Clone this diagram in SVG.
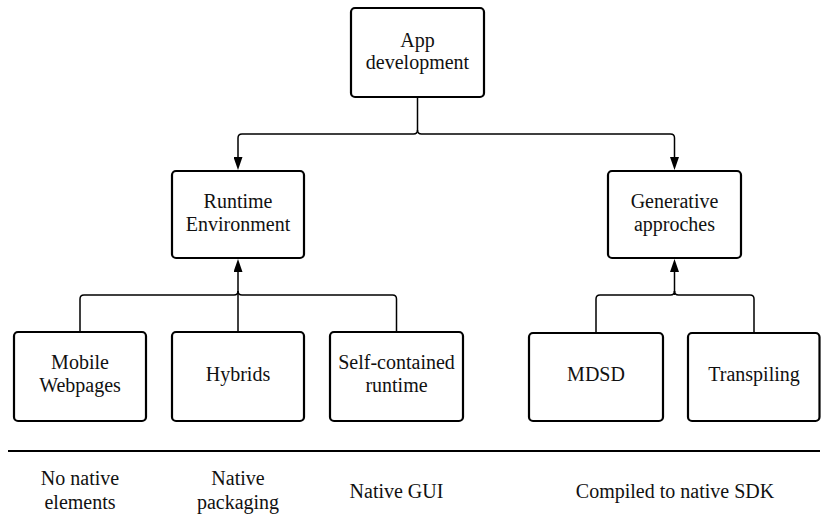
<svg xmlns="http://www.w3.org/2000/svg" width="821" height="516" viewBox="0 0 821 516">
<style>
.box{fill:#fff;stroke:#000;stroke-width:2.2}
.t{font-family:"Liberation Serif","DejaVu Serif",serif;font-size:20px;fill:#111;text-anchor:middle}
.c{fill:none;stroke:#000;stroke-width:1.5}
</style>
<defs>
<marker id="ah" viewBox="0 0 13 9" refX="0" refY="4.5" markerWidth="13" markerHeight="9" markerUnits="userSpaceOnUse" orient="auto">
<path d="M0,0 L13,4.5 L0,9 z" fill="#000"/>
</marker>
</defs>
<rect width="821" height="516" fill="#fff"/>
<g id="connectors">
<path class="c" d="M417.5,97 V130 Q417.5,134 413.5,134 H242 Q238,134 238,138 V157" marker-end="url(#ah)"/>
<path class="c" d="M417.5,130 Q417.5,134 421.5,134 H670.5 Q674.5,134 674.5,138 V157" marker-end="url(#ah)"/>
<path class="c" d="M80,332 V299 Q80,295 84,295 H234 Q238,295 238,291"/>
<path class="c" d="M396.5,332 V299 Q396.5,295 392.5,295 H242 Q238,295 238,291"/>
<path class="c" d="M238,332 V272" marker-end="url(#ah)"/>
<path class="c" d="M596,333 V299 Q596,295 600,295 H670.5 Q674.5,295 674.5,291"/>
<path class="c" d="M754,333 V299 Q754,295 750,295 H678.5 Q674.5,295 674.5,291"/>
<path class="c" d="M674.5,295 V272" marker-end="url(#ah)"/>
</g>
<g id="app">
<rect class="box" x="351" y="8" width="133" height="89" rx="4"/>
<text class="t" x="417.5" y="47">App</text>
<text class="t" x="417.5" y="69">development</text>
</g>
<g id="runtime">
<rect class="box" x="172" y="171" width="132" height="87" rx="4"/>
<text class="t" x="238" y="208">Runtime</text>
<text class="t" x="238" y="231">Environment</text>
</g>
<g id="generative">
<rect class="box" x="608" y="171" width="133" height="87" rx="4"/>
<text class="t" x="674.5" y="208">Generative</text>
<text class="t" x="674.5" y="231">approches</text>
</g>
<g id="mobile">
<rect class="box" x="14" y="332" width="132" height="89" rx="4"/>
<text class="t" x="80" y="369">Mobile</text>
<text class="t" x="80" y="392">Webpages</text>
</g>
<g id="hybrids">
<rect class="box" x="172" y="332" width="132" height="89" rx="4"/>
<text class="t" x="238" y="381">Hybrids</text>
</g>
<g id="selfcontained">
<rect class="box" x="330" y="332" width="133" height="89" rx="4"/>
<text class="t" x="396.5" y="369">Self-contained</text>
<text class="t" x="396.5" y="392">runtime</text>
</g>
<g id="mdsd">
<rect class="box" x="529" y="333" width="134" height="88" rx="4"/>
<text class="t" x="596" y="381">MDSD</text>
</g>
<g id="transpiling">
<rect class="box" x="688" y="333" width="131.5" height="88" rx="4"/>
<text class="t" x="754" y="381">Transpiling</text>
</g>
<g id="separator">
<line x1="8" y1="451" x2="820" y2="451" stroke="#000" stroke-width="2"/>
</g>
<g id="labels">
<text class="t" x="80" y="485">No native</text>
<text class="t" x="80" y="509">elements</text>
<text class="t" x="238" y="485">Native</text>
<text class="t" x="238" y="509">packaging</text>
<text class="t" x="396.5" y="498">Native GUI</text>
<text class="t" x="675" y="498">Compiled to native SDK</text>
</g>
</svg>
